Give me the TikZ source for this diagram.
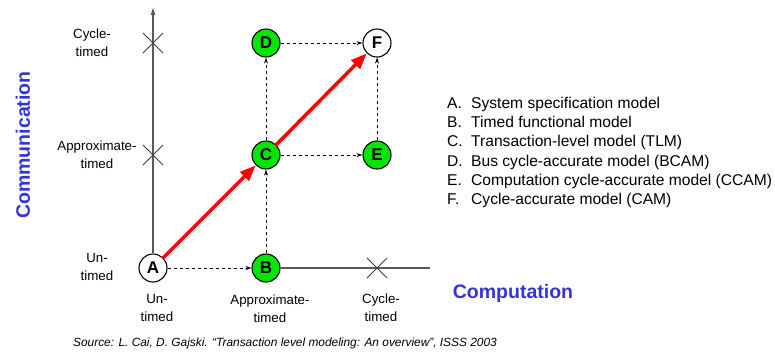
\documentclass[tikz,border=0pt]{standalone}
\usepackage{fontspec}
\setmainfont{Liberation Sans}
\usetikzlibrary{arrows.meta,positioning}
\definecolor{modelgreen}{RGB}{0,230,0}
\definecolor{axisblue}{RGB}{51,51,221}
\newcommand{\legitem}[2]{\makebox[24pt][l]{#1}#2}
\begin{document}
\begin{tikzpicture}[x=1pt,y=-1pt,
		every node/.style={font=\fontsize{13.3}{18}\selectfont},
		model/.style={circle,draw,line width=1.1pt,minimum size=28pt,inner sep=0pt,font=\fontsize{17}{17}\selectfont\bfseries},
		greenmodel/.style={model,fill=modelgreen},
		whitemodel/.style={model,fill=white},
		refine/.style={dashed,line width=0.7pt,-{Stealth[length=6pt,width=4pt]}},
		flow/.style={red,line width=3.5pt,-{Triangle[length=16pt,width=12pt]},shorten <=-1pt},
		axis/.style={draw=black!65,line width=1.1pt},
		cross/.style={draw=black!75,line width=0.8pt},
		level/.style={align=center,font=\fontsize{13.3}{18}\selectfont},
		axistitle/.style={text=axisblue,font=\fontsize{19.5}{20}\selectfont\bfseries}
		]
		\useasboundingbox (0,0) rectangle (775,354);
		% axes
		\coordinate (top) at (153,7);
		\coordinate (right) at (430,268);
		\node[whitemodel] (A) at (153,268) {A};
		\node[greenmodel] (B) at (266,268) {B};
		\node[greenmodel] (C) at (266,155) {C};
		\node[greenmodel] (D) at (266,43) {D};
		\node[greenmodel] (E) at (377,155) {E};
		\node[whitemodel] (F) at (377,43) {F};
		\draw[axis,-{Latex[length=8pt,width=5pt]}] (A) -- (top);
		\draw[axis] (B) -- (right);
		% ticks
		\foreach \name/\x/\y in {ctick/153/43, atick/153/155, xtick/377/268}
		{
			\coordinate (\name) at (\x,\y);
			\draw[cross] (\x-10,\y-10) -- (\x+10,\y+10) (\x-10,\y+10) -- (\x+10,\y-10);
		}
		% refinements
		\draw[refine] (A) -- (B);
		\draw[refine] (B) -- (C);
		\draw[refine] (C) -- (D);
		\draw[refine] (C) -- (E);
		\draw[refine] (D) -- (F);
		\draw[refine] (E) -- (F);
		\draw[flow] (A) -- (C);
		\draw[flow] (C) -- (F);
		% level labels
		\node[level] (ycycle) at (92,43) {Cycle-\\timed};
		\node[level] (yapprox) at (97,155) {Approximate-\\timed};
		\node[level] (yun) at (97,267) {Un-\\timed};
		\node[level] (xun) at (157,308) {Un-\\timed};
		\node[level] (xapprox) at (270,309) {Approximate-\\timed};
		\node[level] (xcycle) at (381,308) {Cycle-\\timed};
		\node[axistitle,rotate=90] (comm) at (23,145) {Communication};
		\node[axistitle] (comp) at (513,293) {Computation};
		% legend
		\node[align=left,anchor=north west,inner sep=0pt,font=\fontsize{15.6}{19.2}\selectfont] (legend) at (447,97)
		{\legitem{A.}{System specification model}\\
		\legitem{B.}{Timed functional model}\\
		\legitem{C.}{Transaction-level model (TLM)}\\
		\legitem{D.}{Bus cycle-accurate model (BCAM)}\\
		\legitem{E.}{Computation cycle-accurate model (CCAM)}\\
		\legitem{F.}{Cycle-accurate model (CAM)}};
		\node[font=\fontsize{11.9}{12}\selectfont\itshape] (source) at (285,343)
		{Source: L. Cai, D. Gajski. ``Transaction level modeling: An overview'', ISSS 2003};
\end{tikzpicture}
\end{document}
